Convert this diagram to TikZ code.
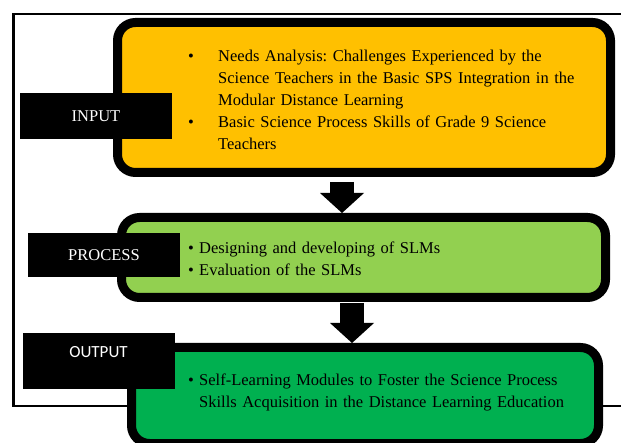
\documentclass[tikz,border=0pt]{standalone}
\usepackage{fontspec}
\setmainfont{Liberation Serif}
\newfontfamily\tagsans{Carlito}
\usetikzlibrary{arrows.meta}
\definecolor{inyellow}{HTML}{FFC000}
\definecolor{proclime}{HTML}{92D050}
\definecolor{outgreen}{HTML}{00B050}
\frenchspacing
% one bulleted entry, continuation lines hang under the text
\newcommand{\bul}[2]{\par\hangindent=#1\hangafter=1\noindent\makebox[#1][l]{\textbullet}#2\par}

\begin{document}
\begin{tikzpicture}[x=1pt, y=-1pt,
  box/.style={draw=black, line width=9pt, rounded corners=18pt, inner sep=0pt},
  tag/.style={fill=black, text=white, inner sep=0pt, minimum width=152pt, font=\fontsize{16.5}{18}\selectfont},
  items/.style={inner sep=0pt, text width=420pt, anchor=west, font=\fontsize{16.5}{22}\selectfont},
  bigarrow/.style={line width=24pt, -{Triangle[length=20pt, width=44pt, line width=0pt]}}]
  \useasboundingbox (0,0) rectangle (621,443);
  \clip (0,0) rectangle (621,443);
  % outer frame, runs off the right edge
  \draw[line width=2.5pt] (13.5,14) rectangle (660,406);
  % the three stages
  \node[box, fill=inyellow, minimum width=493pt, minimum height=150pt] (inbox) at (364,97.5) {};
  \node[box, fill=proclime, minimum width=484pt, minimum height=80pt] (procbox) at (363.5,257.5) {};
  \node[box, fill=outgreen, minimum width=467pt, minimum height=96pt] (outbox) at (365,395.5) {};
  % arrows between stages
  \coordinate (a1) at (342,182);
  \coordinate (a2) at (352,303);
  \draw[bigarrow] (a1) -- (a1 |- procbox.north);
  \draw[bigarrow] (a2) -- (a2 |- outbox.north);
  % black tags on the left
  \node[tag, minimum height=46pt] (intag) at (96,116) {INPUT};
  \node[tag, minimum height=44pt] (proctag) at (104,255) {PROCESS};
  \node[tag, minimum height=56pt, text depth=18pt, font=\tagsans\fontsize{17}{18}\selectfont] (outtag) at (98.5,361) {OUTPUT};
  % bullet lists
  \node[items] (inlist) at (188,95) {%
    \bul{30pt}{Needs Analysis: Challenges Experienced by the\newline Science Teachers in the Basic SPS Integration in the\newline Modular Distance Learning}%
    \bul{30pt}{Basic Science Process Skills of Grade 9 Science\newline Teachers}};
  \node[items] (proclist) at (188,254) {%
    \bul{11pt}{Designing and developing of SLMs}%
    \bul{11pt}{Evaluation of the SLMs}};
  \node[items] (outlist) at (188,387) {%
    \bul{11pt}{Self-Learning Modules to Foster the Science Process\newline Skills Acquisition in the Distance Learning Education}};
\end{tikzpicture}
\end{document}
